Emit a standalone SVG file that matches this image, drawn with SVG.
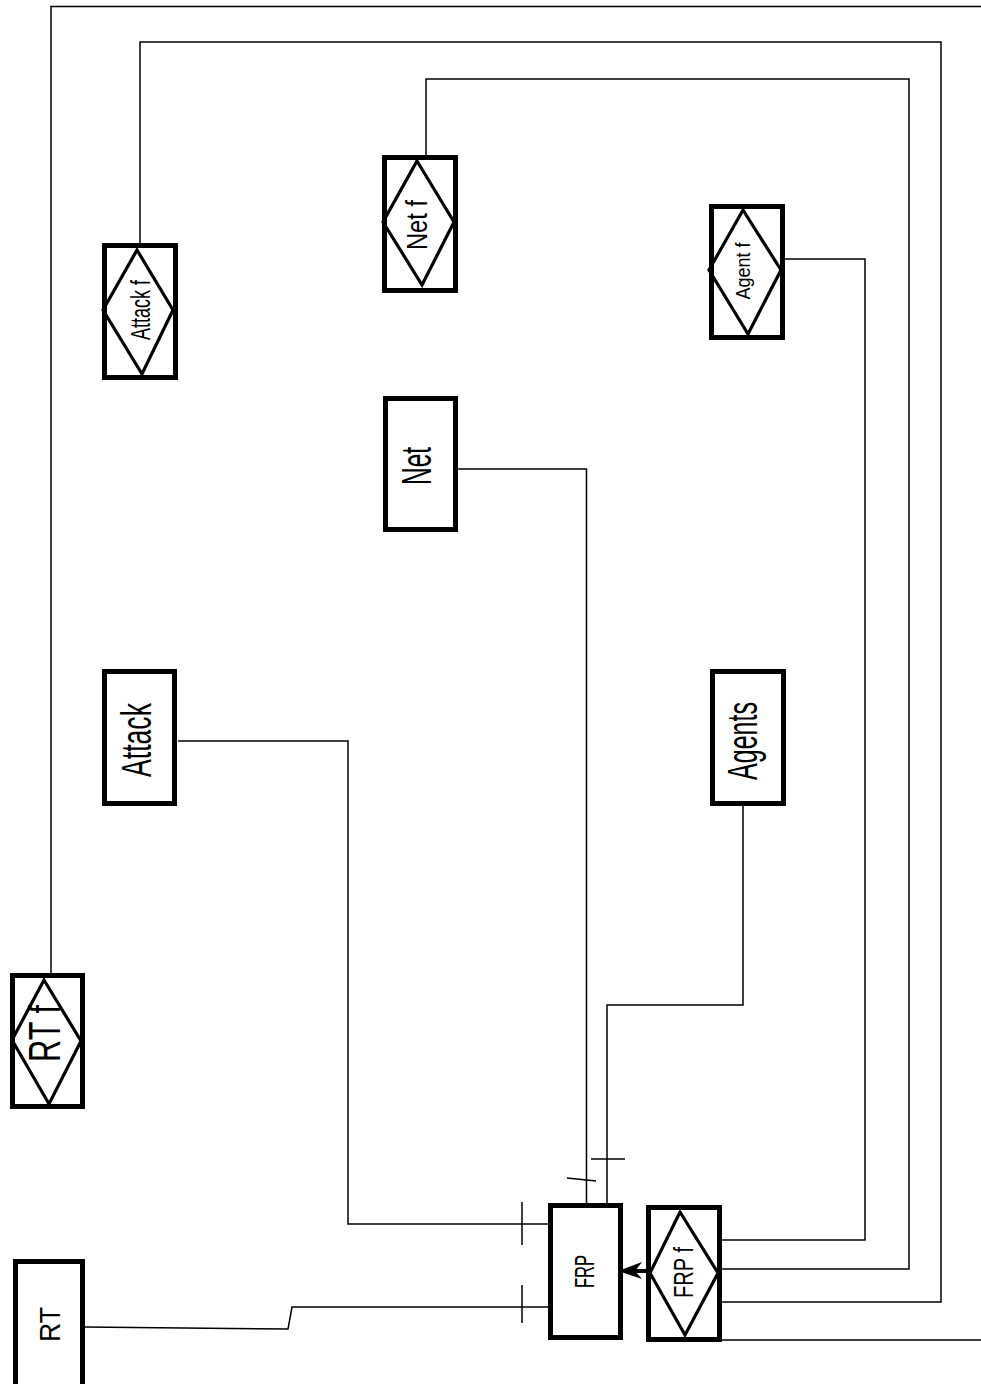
<svg xmlns="http://www.w3.org/2000/svg" width="981" height="1384" viewBox="0 0 981 1384">
<style>
.box{fill:#fff;stroke:#000;stroke-width:5}
.dia{fill:none;stroke:#000;stroke-width:3.2;stroke-linejoin:miter}
.ln{fill:none;stroke:#000;stroke-width:1.5}
.tk{fill:none;stroke:#000;stroke-width:1.5}
text{font-family:"Liberation Sans",Arial,sans-serif;fill:#000;text-anchor:middle}
</style>
<rect width="981" height="1384" fill="#fff"/>
<g id="connectors">
<path class="ln" d="M51,973 V6.5 H995 V1340 H722"/>
<path class="ln" d="M140,243 V42 H941 V1302 H722"/>
<path class="ln" d="M426,155 V79 H909 V1269 H722"/>
<path class="ln" d="M785,259 H865 V1240 H722"/>
<path class="ln" d="M458,469 H586.5 V1203"/>
<path class="ln" d="M743,806 V1005 H607 V1203"/>
<path class="ln" d="M178,741 H348 V1224 H548"/>
<path class="ln" d="M85,1327 L288,1329 L292,1307 H548"/>
<path class="tk" d="M522,1202 V1245 M522,1285 V1323 M591,1159 H625 M567,1178 L596,1181"/>
<path d="M634,1271 H648" stroke="#000" stroke-width="4"/>
<path d="M618,1271 L642,1262 L635,1271 L642,1279 Z" fill="#000"/>
</g>
<g id="node-rt">
<rect class="box" x="15.5" y="1261.5" width="67" height="140"/>
<text font-size="30" textLength="35" lengthAdjust="spacingAndGlyphs" transform="translate(60,1324.5) rotate(-90)">RT</text>
</g>
<g id="node-rtf">
<rect class="box" x="12.5" y="975.5" width="70" height="131"/>
<polygon class="dia" points="44,980 81,1041 49,1104 12,1040"/>
<text font-size="44" textLength="57" lengthAdjust="spacingAndGlyphs" transform="translate(60,1033.5) rotate(-90)">RT f</text>
</g>
<g id="node-attackf">
<rect class="box" x="104.5" y="245.5" width="71" height="132"/>
<polygon class="dia" points="137,250 173,310 142,374 103,310"/>
<text font-size="28" textLength="60" lengthAdjust="spacingAndGlyphs" transform="translate(150,310) rotate(-90)">Attack f</text>
</g>
<g id="node-netf">
<rect class="box" x="384.5" y="157.5" width="71" height="133"/>
<polygon class="dia" points="417,161 454,222 422,285 383,222"/>
<text font-size="30" textLength="50" lengthAdjust="spacingAndGlyphs" transform="translate(427,225) rotate(-90)">Net f</text>
</g>
<g id="node-agentf">
<rect class="box" x="711.5" y="206.5" width="71" height="131"/>
<polygon class="dia" points="743,210 781,270 748,334 709,270"/>
<text font-size="21" textLength="57" lengthAdjust="spacingAndGlyphs" transform="translate(750,271) rotate(-90)">Agent f</text>
</g>
<g id="node-net">
<rect class="box" x="385.5" y="398.5" width="70" height="131"/>
<text font-size="43" textLength="38" lengthAdjust="spacingAndGlyphs" transform="translate(431,466) rotate(-90)">Net</text>
</g>
<g id="node-attack">
<rect class="box" x="104.5" y="671.5" width="70" height="132"/>
<text font-size="43" textLength="74" lengthAdjust="spacingAndGlyphs" transform="translate(151,740) rotate(-90)">Attack</text>
</g>
<g id="node-agents">
<rect class="box" x="712.5" y="671.5" width="71" height="132"/>
<text font-size="42" textLength="78" lengthAdjust="spacingAndGlyphs" transform="translate(757,741) rotate(-90)">Agents</text>
</g>
<g id="node-frp">
<rect class="box" x="550.5" y="1205.5" width="70" height="132"/>
<text font-size="28" textLength="33" lengthAdjust="spacingAndGlyphs" transform="translate(594,1271.5) rotate(-90)">FRP</text>
</g>
<g id="node-frpf">
<rect class="box" x="648.5" y="1207.5" width="71" height="132"/>
<polygon class="dia" points="680,1212 718,1273 685,1335 650,1273"/>
<text font-size="28" textLength="51" lengthAdjust="spacingAndGlyphs" transform="translate(693,1272.5) rotate(-90)">FRP f</text>
</g>
</svg>
